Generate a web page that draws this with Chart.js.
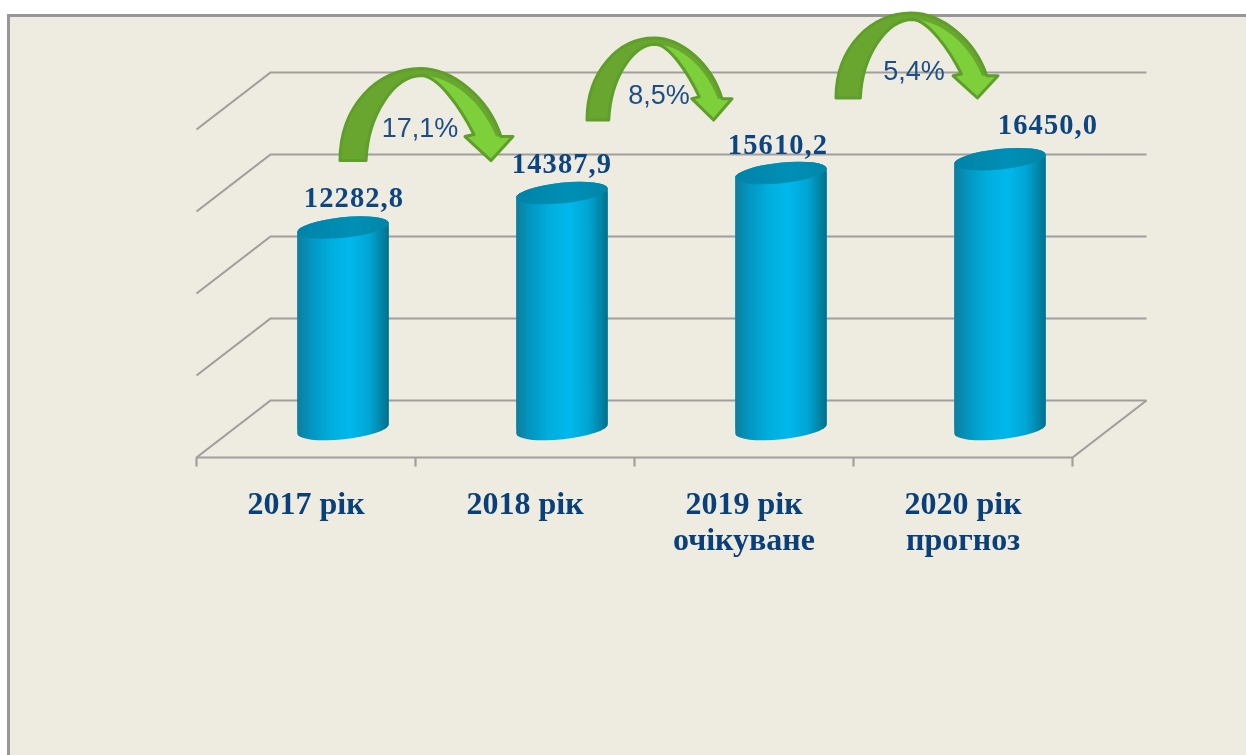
<!DOCTYPE html>
<html>
<head>
<meta charset="utf-8">
<script src="https://cdn.jsdelivr.net/npm/chart.js@4/dist/chart.umd.min.js"></script>
<style>
html,body{margin:0;padding:0;background:#fff;width:1246px;height:755px;overflow:hidden}
#frame{position:absolute;left:7px;top:14px;right:0;bottom:0;background:#eeebe0;border-left:3px solid #979797;border-top:3px solid #979797}
canvas{position:absolute;left:0;top:0;filter:blur(.5px)}
</style>
</head>
<body>
<div id="frame"></div>
<canvas id="c" width="1246" height="755"></canvas>
<script>
const categories = [['2017 рік'], ['2018 рік'], ['2019 рік', 'очікуване'], ['2020 рік', 'прогноз']];
const values = [12282.8, 14387.9, 15610.2, 16450.0];
const valueLabels = ['12282,8', '14387,9', '15610,2', '16450,0'];
const growthLabels = ['17,1%', '8,5%', '5,4%'];
const yTicks = [0, 5000, 10000, 15000, 20000];

// layout only
const DEPTH_X = 37, DEPTH_Y = 28.5, BAR_W = 91;
const ROT = -6 * Math.PI / 180, RX = 46, RY = 10.3;
const labelNudge = [[11, -21], [0, -20], [-3, -19], [48, -25]];
const arrowPlace = [
  {bar: 0, dx: -3, dy: -67, w: 173, h: 92, tx: 80, ty: -24},
  {bar: 1, dx: 25, dy: -73, w: 145, h: 82, tx: 72, ty: -16},
  {bar: 2, dx: 55, dy: -75, w: 162, h: 85, tx: 78, ty: -18}
];
const OUT = [[0,0],['c',0,-55,38,-92,80,-92],['c',112,-92,148,-64,161,-24],[173,-24],[151,0],[125,-24],[134,-26],
  ['c',120,-54,98,-84,82,-85],['c',54,-85,28,-46,26,0]];
const LIGHT = [[84,-85],['c',98,-84,120,-54,134,-26],[125,-24],[151,0],[173,-24],[156,-24],['c',146,-50,120,-82,84,-85]];

function tracePath(ctx, pts, ox, oy, sx, sy) {
  ctx.beginPath();
  pts.forEach((p, i) => {
    if (p[0] === 'c') ctx.bezierCurveTo(ox+p[1]*sx, oy+p[2]*sy, ox+p[3]*sx, oy+p[4]*sy, ox+p[5]*sx, oy+p[6]*sy);
    else if (i === 0) ctx.moveTo(ox+p[0]*sx, oy+p[1]*sy);
    else ctx.lineTo(ox+p[0]*sx, oy+p[1]*sy);
  });
  ctx.closePath();
}
function bodyPath(ctx, x, top, base) {
  ctx.moveTo(x + Math.cos(Math.PI + ROT) * RX, base + Math.sin(Math.PI + ROT) * RX);
  ctx.ellipse(x, base, RX, RY, ROT, Math.PI, 0, true);
  ctx.ellipse(x, top, RX, RY, ROT, 0, Math.PI, true);
  ctx.closePath();
}
function sideGradient(ctx, x) {
  const g = ctx.createLinearGradient(x - RX, 0, x + RX, 0);
  g.addColorStop(0, '#0f7d9c');
  g.addColorStop(.145, '#0295bf');
  g.addColorStop(.36, '#00aedd');
  g.addColorStop(.58, '#00b8ec');
  g.addColorStop(.79, '#00a5d3');
  g.addColorStop(.94, '#027f9f');
  g.addColorStop(1, '#00708c');
  return g;
}

const scene = {
  id: 'scene',
  beforeDatasetsDraw(chart) {
    const {ctx, scales: {x, y}} = chart;
    const L = x.left, R = x.right;
    ctx.save();
    ctx.strokeStyle = '#a09f9b';
    ctx.lineWidth = 2.2;
    yTicks.forEach(t => {
      const py = y.getPixelForValue(t);
      ctx.beginPath();
      ctx.moveTo(L - DEPTH_X, py + DEPTH_Y);
      ctx.lineTo(L + DEPTH_X, py - DEPTH_Y);
      ctx.lineTo(R + DEPTH_X, py - DEPTH_Y);
      ctx.stroke();
    });
    const p0 = y.getPixelForValue(0);
    ctx.beginPath();
    ctx.moveTo(L - DEPTH_X, p0 + DEPTH_Y);
    ctx.lineTo(R - DEPTH_X, p0 + DEPTH_Y);
    ctx.lineTo(R + DEPTH_X, p0 - DEPTH_Y);
    ctx.stroke();
    const step = (R - L) / categories.length;
    for (let i = 0; i <= categories.length; i++) {
      const tx = L - DEPTH_X + i * step;
      ctx.beginPath();
      ctx.moveTo(tx, p0 + DEPTH_Y);
      ctx.lineTo(tx, p0 + DEPTH_Y + 9);
      ctx.stroke();
    }
    ctx.restore();
    // library bars are trimmed to the cylinder outlines
    ctx.save();
    ctx.beginPath();
    chart.getDatasetMeta(0).data.forEach(b => bodyPath(ctx, b.x, b.y, b.base));
    ctx.clip();
  },
  afterDatasetsDraw(chart) {
    const {ctx} = chart;
    ctx.restore();
    ctx.save();
    chart.getDatasetMeta(0).data.forEach((b, i) => {
      ctx.beginPath();
      bodyPath(ctx, b.x, b.y, b.base);
      ctx.fillStyle = sideGradient(ctx, b.x);
      ctx.fill();
      const g = ctx.createLinearGradient(b.x - RX, 0, b.x + RX, 0);
      g.addColorStop(0, '#0083a8');
      g.addColorStop(.6, '#008fb6');
      g.addColorStop(1, '#0086a8');
      ctx.beginPath();
      ctx.ellipse(b.x, b.y, RX, RY, ROT, 0, Math.PI * 2);
      ctx.fillStyle = g;
      ctx.fill();
      ctx.font = 'bold 28.5px "Liberation Serif"';
      ctx.letterSpacing = '1.1px';
      ctx.fillStyle = '#0d4580';
      ctx.textAlign = 'center';
      ctx.textBaseline = 'alphabetic';
      ctx.fillText(valueLabels[i], b.x + labelNudge[i][0], b.y + labelNudge[i][1]);
    });
    ctx.restore();
  },
  afterDraw(chart) {
    const {ctx} = chart;
    const bars = chart.getDatasetMeta(0).data;
    ctx.save();
    arrowPlace.forEach((a, i) => {
      const b = bars[a.bar];
      const ox = b.x + a.dx, oy = b.y + a.dy, sx = a.w / 173, sy = a.h / 92;
      ctx.lineJoin = 'round';
      tracePath(ctx, OUT, ox, oy, sx, sy);
      ctx.fillStyle = '#68a62f';
      ctx.fill();
      tracePath(ctx, LIGHT, ox, oy, sx, sy);
      ctx.fillStyle = '#7dd03a';
      ctx.fill();
      tracePath(ctx, OUT, ox, oy, sx, sy);
      ctx.strokeStyle = '#5f9e2a';
      ctx.lineWidth = 3;
      ctx.stroke();
      ctx.font = '27px "Liberation Sans"';
      ctx.fillStyle = '#1d4f86';
      ctx.textAlign = 'center';
      ctx.textBaseline = 'alphabetic';
      ctx.fillText(growthLabels[i], ox + a.tx, oy + a.ty);
    });
    ctx.restore();
  }
};

new Chart(document.getElementById('c'), {
  type: 'bar',
  data: {
    labels: categories,
    datasets: [{
      data: values,
      barThickness: BAR_W,
      borderWidth: 0,
      backgroundColor: '#00a9d8'
    }]
  },
  options: {
    responsive: false,
    animation: false,
    devicePixelRatio: 1,
    layout: {padding: {left: 233.5, right: 136.5, top: 101, bottom: 0}},
    plugins: {legend: {display: false}, title: {display: false}, tooltip: {enabled: false}},
    scales: {
      x: {
        grid: {display: false, drawTicks: false},
        border: {display: false},
        afterFit: s => { s.height = 326; },
        ticks: {
          color: '#0a4079',
          font: {family: '"Liberation Serif"', size: 32, weight: 'bold', lineHeight: 1.15},
          padding: 58,
          labelOffset: -37,
          maxRotation: 0,
          minRotation: 0,
          autoSkip: false
        }
      },
      y: {display: false, min: 0, max: 20000, ticks: {stepSize: 5000}}
    }
  },
  plugins: [scene]
});
</script>
</body>
</html>
